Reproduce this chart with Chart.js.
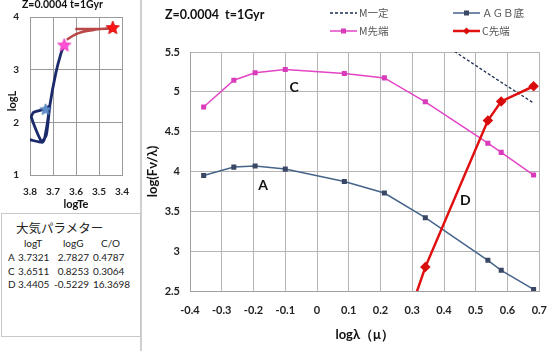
<!DOCTYPE html>
<html>
<head>
<meta charset="utf-8">
<script src="https://cdn.jsdelivr.net/npm/chart.js@4.4.0/dist/chart.umd.min.js"></script>
<style>
  body { margin: 0; background: #fff; width: 560px; height: 351px; overflow: hidden; position: relative; font-family: Lato, "Noto Sans CJK JP", sans-serif; }
  #hrBox { position: absolute; left: 0; top: 0; width: 140px; height: 212px; }
  #specBox { position: absolute; left: 143px; top: 0; width: 417px; height: 351px; }
  #divider { position: absolute; left: 140px; top: 0; width: 2px; height: 351px; background: #cfcfcf; }
  #paramBox { position: absolute; left: 1px; top: 213px; width: 138px; height: 122px; border: 1px solid #c8c8c8; color: #222; }
  #paramBox div { position: absolute; font-family: Lato; font-size: 10px; line-height: 13px; white-space: nowrap; }
  #paramTitle { left: 14px; top: 6px; font-family: "Noto Sans CJK JP" !important; font-size: 12.5px !important; line-height: 16px !important; }
</style>
</head>
<body>
<div id="hrBox"><canvas id="hrChart"></canvas></div>
<div id="divider"></div>
<div id="paramBox"><div id="paramTitle">大気パラメター</div></div>
<div id="specBox"><canvas id="specChart"></canvas></div>
<script>
// ---- spectrum data (log wavelength in micron, B V R I J H K L L' M) ----
const bandLogLam = [-0.357, -0.262, -0.195, -0.100, 0.086, 0.212, 0.341, 0.538, 0.580, 0.682];
const agbBottom  = [3.95, 4.055, 4.07, 4.03, 3.875, 3.73, 3.42, 2.885, 2.76, 2.52];
const mTip       = [4.81, 5.145, 5.24, 5.28, 5.23, 5.175, 4.875, 4.355, 4.24, 3.955];
const cTip       = [null, null, null, null, null, 1.30, 2.80, 4.64, 4.88, 5.07];
const mConstX    = [0.341, 0.538, 0.580, 0.682];
const mConstY    = [5.75, 5.23, 5.12, 4.86];
const seriesNames = ['M一定', 'ＡＧＢ底', 'M先端', 'C先端'];

// letters marking the curves
const curveTags = ['A', 'C', 'D'];
const curveTagX = [-0.17, -0.072, 0.467];
const curveTagY = [3.83, 5.06, 3.63];

// ---- HR diagram data ----
const trackBlueT = [3.801, 3.746, 3.736, 3.716, 3.729, 3.784, 3.794, 3.750, 3.729, 3.713, 3.688, 3.666, 3.651];
const trackBlueL = [1.67, 1.62, 1.70, 2.31, 2.26, 2.19, 2.10, 1.64, 1.76, 2.34, 2.93, 3.30, 3.47];
const trackRedT  = [3.640, 3.615, 3.592, 3.560, 3.523, 3.480, 3.4405, 3.470, 3.540, 3.603];
const trackRedL  = [3.57, 3.64, 3.69, 3.73, 3.755, 3.775, 3.79, 3.775, 3.774, 3.774];
const starLogL   = [2.24, 3.46, 3.79];

// ---- atmosphere parameters ----
const paramRows = ['A', 'C', 'D'];
const paramLogT = ['3.7321', '3.6511', '3.4405'];
const paramLogG = ['2.7827', '0.8253', '-0.5229'];
const paramCO   = ['0.4787', '0.3064', '16.3698'];

const toPts = (xs, ys) => xs.map((v, i) => ({ x: v, y: ys[i] }));
const plainNum = v => String(+v.toFixed(2));

// parameter table
const box = document.getElementById('paramBox');
function addCell(text, left, top, right) {
  const d = document.createElement('div');
  d.textContent = text;
  d.style.top = top + 'px';
  if (right !== undefined) { d.style.right = right + 'px'; d.style.textAlign = 'right'; }
  else d.style.left = left + 'px';
  box.appendChild(d);
}
addCell('logT', 22, 23); addCell('logG', 61, 23); addCell('C/O', 99, 23);
paramRows.forEach((r, i) => {
  const top = 37 + i * 13.5;
  addCell(r, 6, top);
  addCell(paramLogT[i], 16, top);
  addCell(paramLogG[i], 0, top, 138 - 87);
  addCell(paramCO[i], 91, top);
});

function makeStar(r, fill, stroke) {
  const c = document.createElement('canvas');
  c.width = c.height = r * 2 + 2;
  const g = c.getContext('2d');
  g.beginPath();
  for (let k = 0; k < 10; k++) {
    const rad = k % 2 ? r * 0.45 : r;
    const ang = -Math.PI / 2 + k * Math.PI / 5;
    g.lineTo(r + 1 + rad * Math.cos(ang), r + 1 + rad * Math.sin(ang));
  }
  g.closePath();
  g.fillStyle = fill; g.fill();
  g.strokeStyle = stroke; g.lineWidth = 0.8; g.stroke();
  return c;
}
const starImgs = [makeStar(6, '#5f8fcc', '#4a78b0'), makeStar(7, '#ff4fd4', '#e63cbf'), makeStar(7, '#ff1414', '#cc0000')];

// ---------------- HR diagram ----------------
const hrDecor = {
  id: 'hrDecor',
  afterDraw(chart) {
    const ctx = chart.ctx;
    ctx.save();
    ctx.fillStyle = '#111';
    ctx.font = 'bold 10.5px Lato';
    ctx.textBaseline = 'middle';
    ctx.fillText('Z=0.0004 t=1Gyr', 22, 5);
    ctx.translate(12, 101);
    ctx.rotate(-Math.PI / 2);
    ctx.textAlign = 'center';
    ctx.font = 'bold 11px Lato';
    ctx.fillText('logL', 0, 0);
    ctx.restore();
  }
};

new Chart(document.getElementById('hrChart'), {
  type: 'scatter',
  data: {
    datasets: [
      { data: paramLogT.map((t, i) => ({ x: +t, y: starLogL[i] })), pointStyle: starImgs.map(s => s), showLine: false, order: 0 },
      { data: toPts(trackRedT, trackRedL), showLine: true, borderColor: 'rgba(178,52,52,0.9)', borderWidth: 2.5, pointRadius: 0, tension: 0.3, order: 1 },
      { data: toPts(trackBlueT, trackBlueL), showLine: true, borderColor: '#1b2a6b', borderWidth: 2.8, pointRadius: 0, tension: 0.2, order: 2 }
    ]
  },
  options: {
    responsive: true, maintainAspectRatio: false, animation: false,
    layout: { padding: { top: 12, right: 13, left: 0, bottom: 0 } },
    plugins: { legend: { display: false }, tooltip: { enabled: false } },
    scales: {
      x: {
        type: 'linear', reverse: true, min: 3.4, max: 3.8,
        ticks: { stepSize: 0.1, padding: 11, color: '#222', font: { family: 'Lato', size: 10, weight: 'bold' } },
        grid: { color: '#9a9a9a', drawTicks: false },
        border: { color: '#9a9a9a' },
        title: { display: true, text: 'logTe', color: '#111', font: { family: 'Lato', size: 11, weight: 'bold' }, padding: { top: 0, bottom: 1 } },
        afterFit(s) { s.height = 37; }
      },
      y: {
        min: 1, max: 4,
        ticks: { stepSize: 1, padding: 11, color: '#222', font: { family: 'Lato', size: 10, weight: 'bold' } },
        grid: { color: '#9a9a9a', drawTicks: false },
        border: { color: '#9a9a9a' },
        afterFit(s) { s.width = 30; }
      }
    }
  },
  plugins: [hrDecor]
});

// ---------------- spectra ----------------
const specDecor = {
  id: 'specDecor',
  afterDraw(chart) {
    const { ctx, chartArea: a, scales: { x, y } } = chart;
    ctx.save();
    ctx.fillStyle = '#111';
    ctx.textBaseline = 'middle';
    ctx.font = 'bold 12.5px Lato';
    ctx.fillText('Z=0.0004  t=1Gyr', 22, 15);

    // legend, two columns by two rows
    const slots = [[0, 0], [1, 0], [0, 1], [1, 1]];
    const dsFor = [3, 1, 2, 0];
    slots.forEach(([col, row], i) => {
      const ds = chart.data.datasets[dsFor[i]];
      const x0 = a.left + 140 + col * 123, yy = 13 + row * 18;
      ctx.save();
      ctx.strokeStyle = ds.borderColor;
      ctx.lineWidth = ds.borderWidth;
      ctx.setLineDash(ds.borderDash || []);
      ctx.beginPath(); ctx.moveTo(x0, yy); ctx.lineTo(x0 + 27, yy); ctx.stroke();
      ctx.setLineDash([]);
      if (ds.pointRadius > 0) {
        const cx = x0 + 13.5, r = ds.pointRadius;
        ctx.fillStyle = ds.pointBackgroundColor;
        ctx.beginPath();
        if (ds.pointStyle === 'rectRot') {
          ctx.moveTo(cx, yy - r); ctx.lineTo(cx + r, yy); ctx.lineTo(cx, yy + r); ctx.lineTo(cx - r, yy);
        } else {
          ctx.rect(cx - r, yy - r, 2 * r, 2 * r);
        }
        ctx.fill();
      }
      ctx.restore();
      ctx.fillStyle = '#555';
      ctx.font = '10.5px "Noto Sans CJK JP"';
      ctx.fillText(seriesNames[i], x0 + 29, yy);
    });

    ctx.fillStyle = '#111';
    ctx.font = 'bold 14px Lato';
    ctx.textAlign = 'center';
    curveTags.forEach((t, i) => ctx.fillText(t, x.getPixelForValue(curveTagX[i]), y.getPixelForValue(curveTagY[i])));
    ctx.restore();
  }
};

new Chart(document.getElementById('specChart'), {
  type: 'line',
  data: {
    datasets: [
      { label: seriesNames[3], data: toPts(bandLogLam, cTip), borderColor: '#e01010', backgroundColor: '#e01010',
        pointBackgroundColor: '#d80c0c', pointBorderColor: '#d80c0c', borderWidth: 2.5, pointStyle: 'rectRot', pointRadius: 3.5, order: 0 },
      { label: seriesNames[1], data: toPts(bandLogLam, agbBottom), borderColor: '#46648a', backgroundColor: '#46648a',
        pointBackgroundColor: '#3a4866', pointBorderColor: '#3a4866', borderWidth: 1.5, pointStyle: 'rect', pointRadius: 2.5, order: 2 },
      { label: seriesNames[2], data: toPts(bandLogLam, mTip), borderColor: '#e445c6', backgroundColor: '#e445c6',
        pointBackgroundColor: '#d93cbb', pointBorderColor: '#d93cbb', borderWidth: 1.5, pointStyle: 'rect', pointRadius: 2.5, order: 3 },
      { label: seriesNames[0], data: toPts(mConstX, mConstY), borderColor: '#1c2e52', borderWidth: 1.3, borderDash: [3, 2],
        pointRadius: 0, order: 1 }
    ]
  },
  options: {
    responsive: true, maintainAspectRatio: false, animation: false,
    layout: { padding: { top: 52, right: 18, left: 0, bottom: 0 } },
    plugins: { legend: { display: false }, tooltip: { enabled: false } },
    scales: {
      x: {
        type: 'linear', min: -0.4, max: 0.7,
        ticks: { stepSize: 0.1, padding: 13, color: '#222', font: { family: 'Lato', size: 11, weight: 'bold' }, callback: plainNum },
        grid: { color: '#b4b4b4', drawTicks: false },
        border: { color: '#a0a0a0' },
        title: { display: true, text: 'logλ（μ）', color: '#111', font: { family: 'Lato', size: 13, weight: 'bold' }, padding: { top: 0, bottom: 8 } },
        afterFit(s) { s.height = 60; }
      },
      y: {
        min: 2.5, max: 5.5,
        ticks: { stepSize: 0.5, padding: 10, color: '#222', font: { family: 'Lato', size: 11, weight: 'bold' }, callback: plainNum },
        grid: { color: '#b4b4b4', drawTicks: false },
        border: { color: '#a0a0a0' },
        title: { display: true, text: 'log(Fν/λ)', color: '#111', font: { family: 'Lato', size: 13, weight: 'bold' }, padding: { top: 2, bottom: 0 } },
        afterFit(s) { s.width = 47; }
      }
    }
  },
  plugins: [specDecor]
});
</script>
</body>
</html>
